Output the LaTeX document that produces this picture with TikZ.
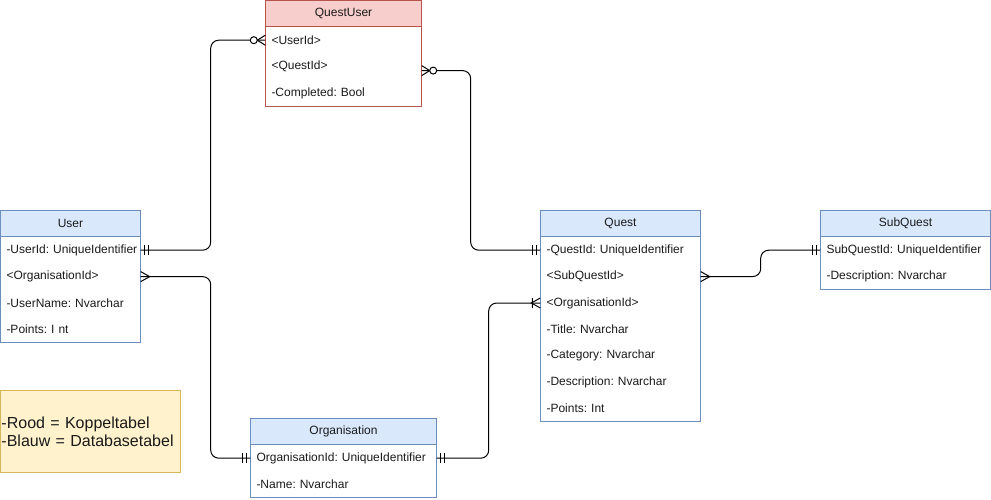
\documentclass[tikz,border=0pt]{standalone}
\usepackage{fontspec}
\setmainfont{Liberation Sans}
\usepackage{xcolor}
\usetikzlibrary{positioning}

\definecolor{bluefill}{HTML}{DAE8FC}
\definecolor{bluedraw}{HTML}{6C8EBF}
\definecolor{redfill}{HTML}{F8CECC}
\definecolor{reddraw}{HTML}{B85450}
\definecolor{yellowfill}{HTML}{FFF2CC}
\definecolor{yellowdraw}{HTML}{D6B656}
\definecolor{txt}{HTML}{1A1A1A}

\tikzset{
  head/.style={minimum height=26pt, inner sep=0pt, anchor=north west, line width=1pt,
    text=txt, font=\fontsize{12}{14}\selectfont},
  bluehead/.style={head, fill=bluefill, draw=bluedraw},
  redhead/.style={head, fill=redfill, draw=reddraw},
  row/.style={minimum height=26pt, inner sep=0pt, text width=#1,
    align=left, text=txt, font=\fontsize{12}{14}\selectfont\frenchspacing,
    execute at begin node=\hspace*{6pt}},
  conn/.style={line width=1pt, rounded corners=8pt},
  ermark/.style={line width=1pt},
  pics/mandone/.style={code={\draw[ermark] (4,-5) -- (4,5) (8,-5) -- (8,5);}},
  pics/crowfoot/.style={code={\draw[ermark] (0,-5) -- (9,0) -- (0,5);}},
  pics/onemany/.style={code={\draw[ermark] (0,-5) -- (9,0) -- (0,5) (8,-5) -- (8,5);}},
  pics/zeromany/.style={code={\draw[ermark] (0,-5) -- (8,0) -- (0,5);
    \draw[ermark, fill=white] (11.5,0) circle (3.5);}},
}

\begin{document}
\frenchspacing
\begin{tikzpicture}[x=1pt,y=-1pt]
\useasboundingbox (0,0) rectangle (991,500);

% QuestUser (koppeltabel)
\node[redhead, minimum width=156pt] (questuser) at (265,0) {QuestUser};
\node[row=156pt, below=0pt of questuser] (qu1) {<UserId>};
\node[row=156pt, below=0pt of qu1] (qu2) {<QuestId>};
\node[row=156pt, below=0pt of qu2] (qu3) {-Completed: Bool};
\draw[reddraw, line width=1pt] (questuser.north west) rectangle (qu3.south east);

% User
\node[bluehead, minimum width=140pt] (user) at (0,210) {User};
\node[row=140pt, below=0pt of user] (u1) {-UserId: UniqueIdentifier};
\node[row=140pt, below=0pt of u1] (u2) {<OrganisationId>};
\node[row=140pt, below=0pt of u2] (u3) {-UserName: Nvarchar};
\node[row=140pt, below=0pt of u3] (u4) {-Points: I nt};
\draw[bluedraw, line width=1pt] (user.north west) rectangle (u4.south east);

% Quest
\node[bluehead, minimum width=160pt] (quest) at (540,210) {Quest};
\node[row=160pt, below=0pt of quest] (q1) {-QuestId: UniqueIdentifier};
\node[row=160pt, below=0pt of q1] (q2) {<SubQuestId>};
\node[row=160pt, below=0pt of q2] (q3) {<OrganisationId>};
\node[row=160pt, below=0pt of q3] (q4) {-Title: Nvarchar};
\node[row=160pt, below=0pt of q4] (q5) {-Category: Nvarchar};
\node[row=160pt, below=0pt of q5] (q6) {-Description: Nvarchar};
\node[row=160pt, below=0pt of q6] (q7) {-Points: Int};
\draw[bluedraw, line width=1pt] (quest.north west) rectangle (q7.south east);

% SubQuest
\node[bluehead, minimum width=170pt] (subquest) at (820,210) {SubQuest};
\node[row=170pt, below=0pt of subquest] (s1) {SubQuestId: UniqueIdentifier};
\node[row=170pt, below=0pt of s1] (s2) {-Description: Nvarchar};
\draw[bluedraw, line width=1pt] (subquest.north west) rectangle (s2.south east);

% Organisation
\node[bluehead, minimum width=186pt] (organisation) at (250,418) {Organisation};
\node[row=186pt, below=0pt of organisation] (o1) {OrganisationId: UniqueIdentifier};
\node[row=186pt, below=0pt of o1] (o2) {-Name: Nvarchar};
\draw[bluedraw, line width=1pt] (organisation.north west) rectangle (o2.south east);

% legenda
\node[draw=yellowdraw, fill=yellowfill, line width=1pt, anchor=north west,
  minimum width=180pt, minimum height=82pt, inner xsep=1pt, text width=178pt,
  align=left, text=txt, font=\fontsize{16}{18}\selectfont] (legend) at (0,390)
  {-Rood = Koppeltabel\\-Blauw = Databasetabel};

% relaties
\coordinate (qu2e) at ([yshift=-4pt]qu2.east);
\draw[conn] (u1.east) -- ++(70,0) |- (qu1.west);
\draw[conn] (qu2e) -- ++(49,0) |- (q1.west);
\draw[conn] (u2.east) -- ++(70,0) |- (o1.west);
\draw[conn] (o1.east) -- ++(52,0) |- (q3.west);
\draw[conn] (q2.east) -- ++(60,0) |- (s1.west);

\pic at (u1.east) {mandone};
\pic[xscale=-1] at (qu1.west) {zeromany};
\pic at (qu2e) {zeromany};
\pic[xscale=-1] at (q1.west) {mandone};
\pic at (u2.east) {crowfoot};
\pic[xscale=-1] at (o1.west) {mandone};
\pic at (o1.east) {mandone};
\pic[xscale=-1] at (q3.west) {onemany};
\pic at (q2.east) {crowfoot};
\pic[xscale=-1] at (s1.west) {mandone};
\end{tikzpicture}
\end{document}
